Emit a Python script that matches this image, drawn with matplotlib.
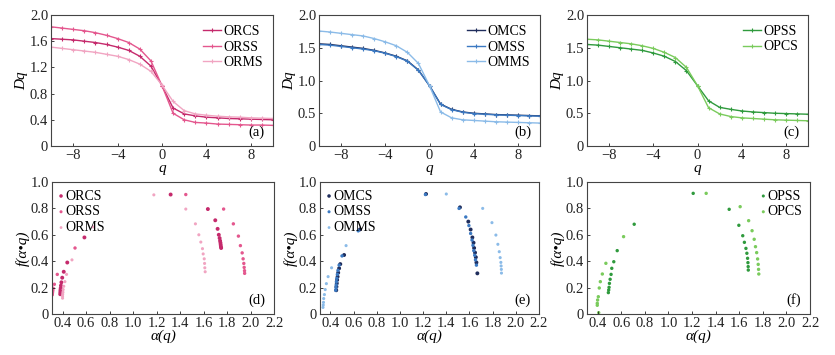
import matplotlib
matplotlib.use("Agg")
import matplotlib.pyplot as plt
import numpy as np
from matplotlib.ticker import FuncFormatter

plt.rcParams['font.family'] = ['Liberation Serif', 'DejaVu Serif']

q = list(range(-10, 11))

# Dq curves, q = -10..10
dq_orcs = [1.64, 1.63, 1.62, 1.60, 1.58, 1.55, 1.51, 1.46, 1.37, 1.22, 0.92,
           0.58, 0.49, 0.46, 0.44, 0.43, 0.42, 0.415, 0.41, 0.405, 0.40]
dq_orss = [1.82, 1.80, 1.78, 1.76, 1.73, 1.69, 1.64, 1.58, 1.48, 1.30, 0.92,
           0.50, 0.40, 0.36, 0.35, 0.335, 0.33, 0.325, 0.32, 0.32, 0.315]
dq_orms = [1.51, 1.49, 1.47, 1.45, 1.43, 1.40, 1.37, 1.32, 1.25, 1.14, 0.93,
           0.68, 0.54, 0.49, 0.47, 0.455, 0.445, 0.44, 0.43, 0.425, 0.42]

dq_omcs = [1.56, 1.55, 1.53, 1.51, 1.49, 1.46, 1.42, 1.37, 1.30, 1.16, 0.92,
           0.64, 0.56, 0.52, 0.50, 0.49, 0.48, 0.475, 0.47, 0.465, 0.46]
dq_omss = [1.55, 1.54, 1.52, 1.50, 1.48, 1.455, 1.415, 1.365, 1.295, 1.155, 0.92,
           0.635, 0.555, 0.515, 0.495, 0.485, 0.475, 0.47, 0.465, 0.46, 0.455]
dq_omms = [1.755, 1.74, 1.72, 1.70, 1.68, 1.64, 1.59, 1.53, 1.43, 1.26, 0.92,
           0.52, 0.43, 0.40, 0.39, 0.38, 0.37, 0.365, 0.36, 0.355, 0.35]

dq_opss = [1.55, 1.54, 1.52, 1.50, 1.48, 1.46, 1.42, 1.37, 1.29, 1.15, 0.92,
           0.69, 0.59, 0.56, 0.535, 0.52, 0.51, 0.50, 0.495, 0.49, 0.485]
dq_opcs = [1.63, 1.62, 1.60, 1.58, 1.56, 1.53, 1.49, 1.43, 1.35, 1.20, 0.92,
           0.585, 0.49, 0.45, 0.43, 0.42, 0.41, 0.40, 0.395, 0.39, 0.385]

# multifractal spectra alpha(q), f(alpha), q = -10..10
a_orcs = [1.75, 1.748, 1.746, 1.744, 1.741, 1.737, 1.73, 1.72, 1.70, 1.637, 1.32,
          0.586, 0.44, 0.41, 0.397, 0.39, 0.386, 0.384, 0.382, 0.381, 0.38]
f_orcs = [0.50, 0.51, 0.525, 0.54, 0.555, 0.575, 0.60, 0.645, 0.71, 0.795, 0.905,
          0.58, 0.39, 0.32, 0.275, 0.24, 0.215, 0.195, 0.18, 0.165, 0.15]
a_orss = [1.95, 1.949, 1.946, 1.943, 1.937, 1.929, 1.914, 1.897, 1.854, 1.771, 1.449,
          0.506, 0.355, 0.33, 0.32, 0.317, 0.315, 0.314, 0.313, 0.312, 0.312]
f_orss = [0.308, 0.328, 0.353, 0.383, 0.418, 0.463, 0.518, 0.59, 0.683, 0.795, 0.905,
          0.50, 0.30, 0.225, 0.195, 0.18, 0.17, 0.162, 0.156, 0.15, 0.145]
a_orms = [1.614, 1.611, 1.609, 1.606, 1.597, 1.591, 1.577, 1.56, 1.531, 1.449, 1.177,
          0.66, 0.48, 0.434, 0.42, 0.41, 0.405, 0.403, 0.401, 0.40, 0.40]
f_orms = [0.32, 0.35, 0.383, 0.418, 0.455, 0.495, 0.545, 0.60, 0.683, 0.795, 0.9025,
          0.66, 0.41, 0.30, 0.245, 0.21, 0.185, 0.165, 0.15, 0.135, 0.12]

a_omcs = [1.668, 1.66, 1.655, 1.648, 1.64, 1.635, 1.625, 1.61, 1.59, 1.518, 1.225,
          0.655, 0.518, 0.485, 0.475, 0.467, 0.462, 0.458, 0.455, 0.452, 0.45]
f_omcs = [0.308, 0.39, 0.43, 0.465, 0.50, 0.54, 0.58, 0.64, 0.70, 0.808, 0.909,
          0.641, 0.447, 0.378, 0.346, 0.313, 0.283, 0.258, 0.232, 0.207, 0.18]
a_omss = [1.66, 1.652, 1.645, 1.637, 1.63, 1.622, 1.61, 1.595, 1.568, 1.51, 1.22,
          0.64, 0.50, 0.475, 0.465, 0.46, 0.455, 0.452, 0.45, 0.448, 0.445]
f_omss = [0.37, 0.41, 0.445, 0.48, 0.52, 0.56, 0.61, 0.67, 0.735, 0.80, 0.905,
          0.63, 0.44, 0.37, 0.33, 0.30, 0.27, 0.245, 0.22, 0.20, 0.18]
a_omms = [1.876, 1.875, 1.873, 1.871, 1.865, 1.857, 1.845, 1.828, 1.794, 1.714, 1.40,
          0.535, 0.41, 0.38, 0.365, 0.355, 0.348, 0.342, 0.34, 0.338, 0.336]
f_omms = [0.31, 0.338, 0.364, 0.391, 0.427, 0.472, 0.528, 0.598, 0.692, 0.80, 0.909,
          0.518, 0.35, 0.283, 0.23, 0.185, 0.147, 0.117, 0.088, 0.068, 0.05]

a_opss = [1.677, 1.676, 1.674, 1.671, 1.665, 1.657, 1.644, 1.63, 1.597, 1.515, 1.21,
          0.71, 0.566, 0.537, 0.52, 0.514, 0.506, 0.50, 0.497, 0.494, 0.491]
f_opss = [0.333, 0.359, 0.389, 0.422, 0.46, 0.497, 0.543, 0.593, 0.672, 0.793, 0.914,
          0.68, 0.48, 0.396, 0.346, 0.30, 0.263, 0.232, 0.202, 0.182, 0.162]
a_opcs = [1.766, 1.764, 1.761, 1.756, 1.748, 1.738, 1.727, 1.709, 1.68, 1.608, 1.32,
          0.62, 0.47, 0.44, 0.423, 0.414, 0.406, 0.40, 0.397, 0.397, 0.409]
f_opcs = [0.303, 0.338, 0.376, 0.417, 0.465, 0.51, 0.566, 0.631, 0.707, 0.813, 0.914,
          0.586, 0.384, 0.303, 0.245, 0.197, 0.131, 0.106, 0.081, 0.066, 0.01]

pink = ['#c52a6c', '#e4578e', '#f1a5c2']
blue = ['#1f2d5c', '#3b79c2', '#8bbbe8']
green = ['#2f9a3d', '#7acb5c']

W, H = 835, 355
fig = plt.figure(figsize=(W / 100, H / 100), dpi=100)

def box(x0, x1, y0, y1):
    return [x0 / W, 1 - y1 / H, (x1 - x0) / W, (y1 - y0) / H]

ax_a = fig.add_axes(box(51, 273, 15, 146))
ax_b = fig.add_axes(box(319, 540, 15, 146))
ax_c = fig.add_axes(box(587, 808, 15, 146))
ax_d = fig.add_axes(box(52, 274, 182, 314))
ax_e = fig.add_axes(box(320, 539, 182, 314))
ax_f = fig.add_axes(box(587, 810, 182, 314))

fmty = FuncFormatter(lambda v, p: '0' if abs(v) < 1e-9 else '%.1f' % v)
fmtq = FuncFormatter(lambda v, p: '0' if v == 0 else ('\u2212%d' % -v if v < 0 else '%d' % v))

def style(ax):
    for s in ax.spines.values():
        s.set_color('#444444')
        s.set_linewidth(0.8)
    ax.tick_params(direction='in', length=2, width=0.6, labelsize=10.5, pad=2, colors='#222222')

def top_panel(ax, series, names, colors, yt, tag):
    for d, n, c in zip(series, names, colors):
        ax.plot(q, d, color=c, lw=1.0, marker='+', ms=3.2, mew=0.8, label=n)
    ax.set_xlim(-10, 10)
    ax.set_ylim(0, 2.0)
    ax.set_xticks([-8, -4, 0, 4, 8])
    ax.set_yticks(yt)
    ax.xaxis.set_major_formatter(fmtq)
    ax.yaxis.set_major_formatter(fmty)
    ax.set_xlabel('q', style='italic', fontsize=11, labelpad=0)
    ax.set_ylabel('Dq', style='italic', fontsize=11, labelpad=1)
    ax.legend(loc='upper right', frameon=False, fontsize=10, handlelength=1.3,
              handletextpad=0.2, labelspacing=0.2, borderaxespad=0.3)
    ax.text(0.96, 0.05, '(%s)' % tag, transform=ax.transAxes, ha='right', va='bottom', fontsize=10.5)
    style(ax)

def bottom_panel(ax, xs, ys, names, colors, sizes, loc, tag):
    for a, f, n, c, s in zip(xs, ys, names, colors, sizes):
        ax.scatter(a, f, s=s, color=c, edgecolors='none', label=n)
    ax.set_xlim(0.31, 2.2)
    ax.set_ylim(0, 1.0)
    ax.set_xticks(np.arange(0.4, 2.21, 0.2))
    ax.set_yticks([0, 0.2, 0.4, 0.6, 0.8, 1.0])
    ax.xaxis.set_major_formatter(FuncFormatter(lambda v, p: '%.1f' % v))
    ax.yaxis.set_major_formatter(fmty)
    ax.set_xlabel('α(q)', style='italic', fontsize=11, labelpad=0)
    ax.set_ylabel('f(α•q)', style='italic', fontsize=11, labelpad=1)
    ax.legend(loc=loc, frameon=False, fontsize=10, handlelength=0.2, markerscale=0.9,
              handletextpad=0.2, labelspacing=0.2, borderaxespad=0.15)
    ax.text(0.96, 0.05, '(%s)' % tag, transform=ax.transAxes, ha='right', va='bottom', fontsize=10.5)
    style(ax)

top_panel(ax_a, [dq_orcs, dq_orss, dq_orms], ['ORCS', 'ORSS', 'ORMS'], pink,
          [0, 0.4, 0.8, 1.2, 1.6, 2.0], 'a')
top_panel(ax_b, [dq_omcs, dq_omss, dq_omms], ['OMCS', 'OMSS', 'OMMS'], blue,
          [0, 0.5, 1.0, 1.5, 2.0], 'b')
top_panel(ax_c, [dq_opss, dq_opcs], ['OPSS', 'OPCS'], green,
          [0, 0.5, 1.0, 1.5, 2.0], 'c')

bottom_panel(ax_d, [a_orcs, a_orss, a_orms], [f_orcs, f_orss, f_orms],
             ['ORCS', 'ORSS', 'ORMS'], pink, [8, 6, 5], 'upper left', 'd')
bottom_panel(ax_e, [a_omcs, a_omss, a_omms], [f_omcs, f_omss, f_omms],
             ['OMCS', 'OMSS', 'OMMS'], blue, [8, 6, 5], 'upper left', 'e')
bottom_panel(ax_f, [a_opss, a_opcs], [f_opss, f_opcs],
             ['OPSS', 'OPCS'], green, [6, 6], 'upper right', 'f')

fig.savefig('out.png', dpi=100)
